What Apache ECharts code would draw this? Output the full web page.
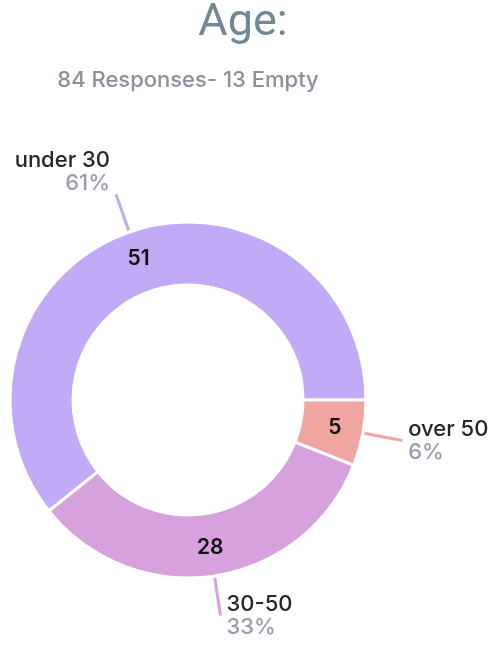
<!DOCTYPE html>
<html>
<head>
<meta charset="utf-8">
<script src="https://cdn.jsdelivr.net/npm/echarts@6/dist/echarts.min.js"></script>
<style>
  html, body { margin: 0; padding: 0; background: #fff; }
  #chart { width: 504px; height: 646px; }
</style>
</head>
<body>
<div id="chart"></div>
<script>
const categories = ["under 30", "30-50", "over 50"];
const counts = [51, 28, 5];
const sliceColors = ["#c1abf6", "#d7a1dd", "#efa6a1"];
const titleText = "Age:";
const subtitleText = "84 Responses- 13 Empty";

const FONT = 'Inter, "Noto Sans", sans-serif';
const CENTER = [188, 400];
const RADIUS = [115, 178];

const chart = echarts.init(document.getElementById("chart"), null, { renderer: "canvas" });

const sliceData = categories.map((name, i) => ({
  name,
  value: counts[i],
  itemStyle: { color: sliceColors[i] },
  labelLine: { lineStyle: { color: sliceColors[i] } },
  // the top-left label sits above its line end
  label: i === 0 ? { padding: [0, 0, 44, 0] } : {},
}));

const baseSeries = {
  type: "pie",
  center: CENTER,
  radius: RADIUS,
  startAngle: 0,
  clockwise: false,
  avoidLabelOverlap: false,
  percentPrecision: 0,
  animation: false,
  itemStyle: { borderColor: "#ffffff", borderWidth: 3 },
  emphasis: { disabled: true },
};

chart.setOption({
  animation: false,
  textStyle: { fontFamily: FONT },
  graphic: [
    {
      type: "text",
      x: 243,
      y: 24,
      style: {
        text: titleText,
        fill: "#6f8894",
        font: '400 45px Roboto, sans-serif',
        textAlign: "center",
        textVerticalAlign: "middle",
      },
    },
    {
      type: "text",
      x: 188,
      y: 80,
      style: {
        text: subtitleText,
        fill: "#8c8f9c",
        font: '500 22px ' + FONT,
        textAlign: "center",
        textVerticalAlign: "middle",
      },
    },
  ],
  series: [
    Object.assign({}, baseSeries, {
      name: "outer",
      data: sliceData,
      label: {
        position: "outside",
        formatter: "{n|{b}}\n{p|{d}%}",
        distanceToLabelLine: 6,
        rich: {
          n: { fontFamily: FONT, fontSize: 22, fontWeight: 500, color: "#26262b", lineHeight: 23 },
          p: { fontFamily: FONT, fontSize: 22, fontWeight: 500, color: "#9a9cae", lineHeight: 23 },
        },
      },
      labelLine: { show: true, length: 40, length2: 0, smooth: false, lineStyle: { width: 3 } },
    }),
    Object.assign({}, baseSeries, {
      name: "inner",
      silent: true,
      data: categories.map((name, i) => ({ name, value: counts[i], itemStyle: { color: sliceColors[i] } })),
      label: {
        position: "inside",
        formatter: "{c}",
        fontFamily: FONT,
        fontSize: 21,
        fontWeight: 600,
        color: "#111111",
      },
      labelLine: { show: false },
    }),
  ],
});
</script>
</body>
</html>
